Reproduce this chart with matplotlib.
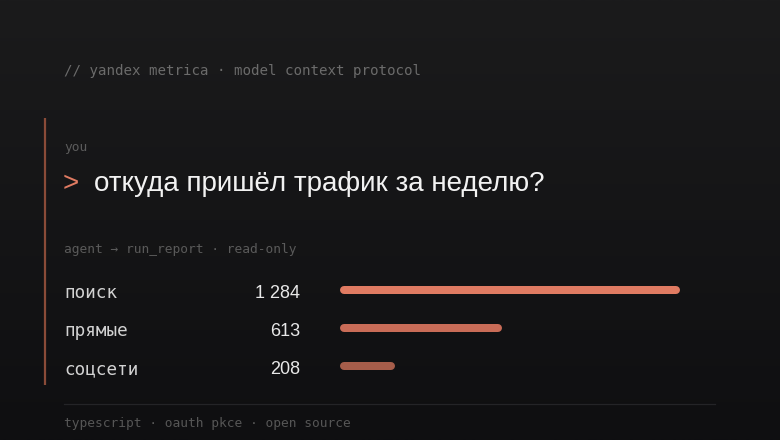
"""
Yandex Metrica MCP card: traffic sources for the week as rounded bars.
"""
import numpy as np
from matplotlib import pyplot as plt
from matplotlib.colors import LinearSegmentedColormap

W, H = 780, 440
DPI = 100

sources = ["поиск", "прямые", "соцсети"]
visits = [1284, 613, 208]
value_labels = ["1 284", "613", "208"]
bar_colors = ["#e07b62", "#c96c57", "#a65d4a"]

MONO = "DejaVu Sans Mono"
SANS = ["Liberation Sans", "DejaVu Sans"]

fig = plt.figure(figsize=(W / DPI, H / DPI), dpi=DPI)

# background: vertical gradient, pixel coordinates
bg = fig.add_axes([0, 0, 1, 1])
bg.set_xlim(0, W)
bg.set_ylim(H, 0)
bg.axis("off")
grad = np.linspace(0, 1, 256).reshape(-1, 1)
cmap = LinearSegmentedColormap.from_list("bg", ["#1b1b1c", "#0f0f11"])
bg.imshow(grad, cmap=cmap, aspect="auto", extent=[0, W, H, 0], zorder=0)

# left accent rule and footer divider
bg.plot([44.5, 44.5], [118, 385], color="#8a4b38", lw=1.6, solid_capstyle="butt")
bg.plot([64, 715], [404.5, 404.5], color="#242427", lw=0.9)

bg.text(64, 71, "// yandex metrica · model context protocol", family=MONO,
        fontsize=10.2, color="#6b6b6b", va="center")
bg.text(64, 147, "you", family=MONO, fontsize=9.3, color="#5c5c5c", va="center")
bg.text(63, 184, ">", family=SANS, fontsize=20, color="#e07b62", va="center")
bg.text(94, 184, "откуда пришёл трафик за неделю?", family=SANS, fontsize=20,
        color="#f2f2f2", va="center")
bg.text(64, 249, "agent → run_report · read-only", family=MONO, fontsize=9.3,
        color="#5a5a5a", va="center")
bg.text(64, 423, "typescript · oauth pkce · open source", family=MONO,
        fontsize=9.3, color="#565656", va="center")

rows_y = [290, 328, 366]
for name, lab, y in zip(sources, value_labels, rows_y):
    bg.text(64, y + 3, name, family=MONO, fontsize=12.7, color="#d2d2d2",
            va="center")
    bg.text(300, y + 4, lab, family=SANS, fontsize=13, color="#e8e8e8",
            va="center", ha="right")

# bar axes: 0 at x=340 px, max value at x=680 px
x0, x1 = 340, 680
ax = fig.add_axes([x0 / W, 0, (x1 - x0) / W, 1])
ax.set_xlim(0, max(visits))
ax.set_ylim(H, 0)
ax.axis("off")
ax.patch.set_alpha(0)

bar_px = 8
cap = (bar_px / 2) * max(visits) / (x1 - x0)  # half bar height in data units
for v, c, y in zip(visits, bar_colors, rows_y):
    ax.plot([cap, v - cap], [y, y], color=c, lw=bar_px * 72 / DPI,
            solid_capstyle="round")

fig.savefig("out.png", dpi=DPI)
